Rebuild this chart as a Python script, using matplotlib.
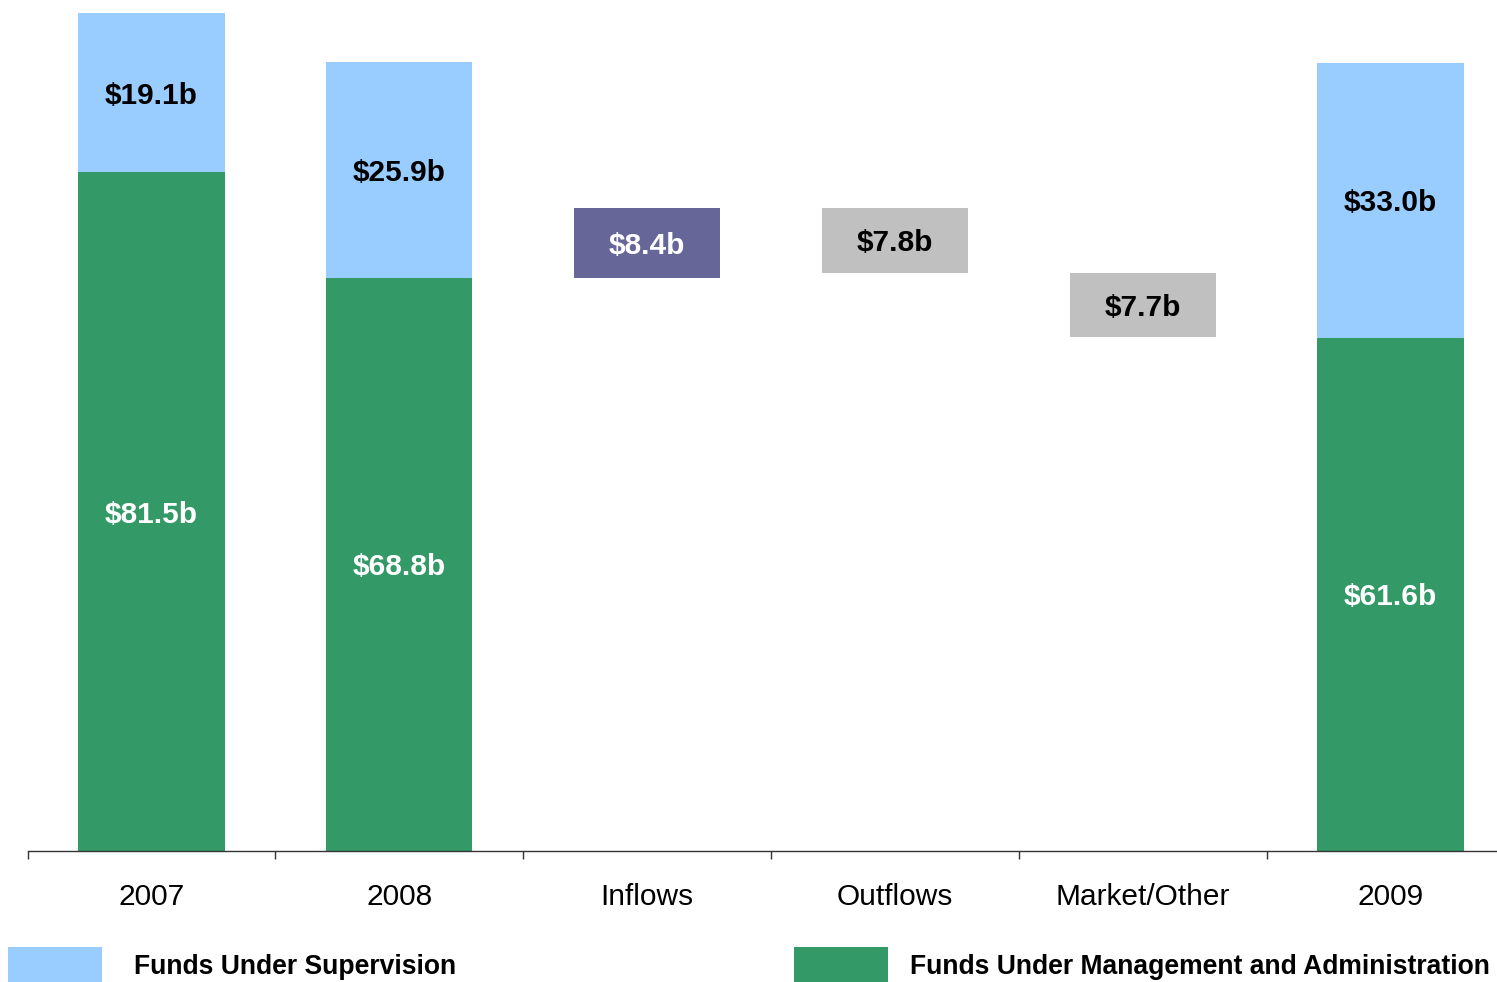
import numpy as np
import matplotlib.pyplot as plt
from matplotlib.patches import Rectangle

plt.rcParams['font.family'] = ['Liberation Sans', 'DejaVu Sans']

# ----------------------------------------------------------------------
# Data ($b)
# ----------------------------------------------------------------------
categories = ['2007', '2008', 'Inflows', 'Outflows', 'Market/Other', '2009']
fuma = [81.5, 68.8, None, None, None, 61.6]     # Funds Under Management and Administration
fus = [19.1, 25.9, None, None, None, 33.0]      # Funds Under Supervision
changes = [None, None, 8.4, -7.8, -7.7, None]   # movements in FUMA

c_fus = '#99CCFF'
c_fuma = '#339966'
c_in = '#666699'
c_out = '#C0C0C0'

# ----------------------------------------------------------------------
# Figure
# ----------------------------------------------------------------------
W, H = 1497, 982
fig = plt.figure(figsize=(W / 100, H / 100), dpi=100)
ax = fig.add_axes([27.6 / W, (H - 851) / H, 1486.8 / W, 851 / H])

x = np.arange(len(categories))
width = 0.59
lbl = dict(ha='center', va='center_baseline', fontsize=21.5, fontweight='bold')

running = None
for i, cat in enumerate(categories):
    if fuma[i] is not None:
        ax.bar(x[i], fuma[i], width, color=c_fuma)
        ax.bar(x[i], fus[i], width, bottom=fuma[i], color=c_fus)
        ax.text(x[i], fuma[i] / 2, f'${fuma[i]:.1f}b', color='white', **lbl)
        ax.text(x[i], fuma[i] + fus[i] / 2, f'${fus[i]:.1f}b', color='black', **lbl)
        running = fuma[i]
    else:
        d = changes[i]
        if d > 0:
            bottom, col, tcol = running, c_in, 'white'
        else:
            bottom, col, tcol = running + d, c_out, 'black'
        ax.bar(x[i], abs(d), width, bottom=bottom, color=col)
        ax.text(x[i], bottom + abs(d) / 2, f'${abs(d):.1f}b', color=tcol, **lbl)
        running = running + d

ax.set_xlim(-0.5, len(categories) - 0.5)
ax.set_ylim(0, 851 / 8.33)

for s in ['top', 'right', 'left']:
    ax.spines[s].set_visible(False)
ax.spines['bottom'].set_color('#333333')
ax.spines['bottom'].set_linewidth(1.0)
ax.set_yticks([])

ax.set_xticks(x - 0.5)
ax.set_xticklabels([])
ax.set_xticks(x, minor=True)
ax.set_xticklabels(categories, minor=True, fontsize=21.5)
ax.tick_params(axis='x', which='major', length=6, width=1, color='#333333', direction='out')
ax.tick_params(axis='x', which='minor', length=0, pad=23)

# ----------------------------------------------------------------------
# Legend
# ----------------------------------------------------------------------
fig.add_artist(Rectangle((8 / W, (H - 982) / H), 94 / W, 35 / H,
                         transform=fig.transFigure, color=c_fus, lw=0))
fig.text(134 / W, (H - 967) / H, 'Funds Under Supervision', fontsize=19.1,
         fontweight='bold', va='center', ha='left')
fig.add_artist(Rectangle((794 / W, (H - 982) / H), 94 / W, 35 / H,
                         transform=fig.transFigure, color=c_fuma, lw=0))
fig.text(910 / W, (H - 967) / H, 'Funds Under Management and Administration', fontsize=19.1,
         fontweight='bold', va='center', ha='left')

fig.savefig('out.png', dpi=100)
